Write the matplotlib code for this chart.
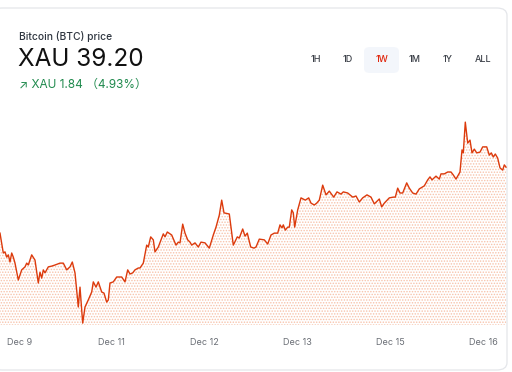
import matplotlib.pyplot as plt
from matplotlib.patches import FancyBboxPatch

plt.rcParams['font.family'] = ['Inter', 'DejaVu Sans', 'Noto Sans CJK SC']
plt.rcParams['hatch.linewidth'] = 0.7

# time axis (chart units across the week) and price in XAU
t = [0, 3.3, 5, 6.7, 8.3, 10, 11.7, 13.3, 15, 18.3, 21.7, 25, 26.7, 28.3, 31.7, 35,
     38.3, 40, 41.7, 43.3, 45, 48.3, 51.7, 55, 60, 63.3, 66.7, 70, 72.3, 75, 78.3, 80,
     82.7, 85, 88.3, 91.7, 93.3, 96, 98.3, 101.7, 104, 106.7, 108.3, 110, 113.3, 116.7,
     121.7, 125, 127.7, 130, 132.7, 135, 138.3, 140, 143.3, 146.7, 148.3, 150.7, 153.3,
     155, 158.3, 163.3, 165, 167.3, 171.7, 176, 178.3, 180, 182.7, 185, 187.7, 190,
     191.7, 195, 198.3, 201, 205, 209.3, 213.3, 216, 219.3, 221.7, 224, 229.3, 233.3,
     237.3, 239.3, 242.7, 245, 247.3, 250.7, 254,
     256, 259.3, 264.3, 267.7, 271, 274.3, 277.7, 280, 282, 283.3, 285.3, 287.7, 289.3,
     291.7, 293.3, 294.7, 297.7, 301, 305.3, 308.7, 311, 314.3, 316.7, 319.3, 322.7,
     326, 329.3, 333.7, 337, 341, 343.3, 347.7, 352.7, 356, 359.3, 362.7, 367, 371,
     374.3, 379.3, 381.7, 384.3, 389.3, 393.3, 395.3, 397.7, 400, 402.7, 406.7, 409.3,
     412.7, 416, 419.3, 424.3, 427.7, 430, 432, 436, 439.3, 441, 444.3, 447.7, 451,
     453.3, 456, 460, 462, 463.3, 465.3, 467.7, 470, 472, 474.3, 476.7, 480, 482.7,
     486.7, 489.3, 491.3, 493.3, 495.3, 497.7, 500, 502.7, 504.3, 506]
price = [37.41, 36.88, 36.91, 36.77, 36.83, 36.64, 36.88, 36.77, 36.61, 36.16, 36.43,
         36.51, 36.61, 36.56, 36.83, 36.69, 36.08, 36.37, 36.21, 36.43, 36.35, 36.51,
         36.53, 36.56, 36.61, 36.61, 36.43, 36.51, 36.64, 36.35, 35.44, 35.97, 35.01,
         35.44, 35.63, 35.84, 36.11, 35.97, 36.11, 35.84, 35.81, 35.57, 35.63, 36.08,
         36.11, 36.24, 36.24, 36.11, 36.43, 36.32, 36.35, 36.43, 36.48, 36.48, 36.61,
         37.09, 37.04, 37.31, 37.23, 36.91, 37.04, 37.39, 37.31, 37.44, 37.36, 37.09,
         37.17, 37.15, 37.65, 37.41, 37.23, 37.17, 37.09, 37.15, 37.04, 37.17, 37.15,
         37.01, 37.36, 37.57, 37.89, 38.29, 37.95, 37.92, 37.09, 37.31, 37.28, 37.52,
         37.33, 37.41, 37.04, 37.01,
         37.04, 37.25, 37.23, 37.12, 37.36, 37.41, 37.41, 37.63, 37.55, 37.63, 37.49,
         37.57, 37.57, 38.03, 37.95, 37.57, 38.03, 38.35, 38.29, 38.35, 38.21, 38.16,
         38.21, 38.29, 38.69, 38.43, 38.53, 38.37, 38.51, 38.45, 38.51, 38.48, 38.37,
         38.40, 38.24, 38.35, 38.43, 38.37, 38.19, 38.32, 38.11, 38.21, 38.35, 38.37,
         38.37, 38.61, 38.48, 38.48, 38.75, 38.61, 38.48, 38.45, 38.59, 38.67, 38.83,
         38.91, 38.83, 38.93, 38.85, 38.99, 38.99, 39.04, 39.04, 38.96, 38.85, 39.04,
         39.63, 39.55, 40.37, 39.81, 39.89, 39.55, 39.65, 39.55, 39.57, 39.71, 39.71,
         39.49, 39.55, 39.44, 39.52, 39.41, 39.15, 39.09, 39.23, 39.17]

tick_pos = [20, 111, 204, 297, 390, 483]
tick_labels = ['Dec 9', 'Dec 11', 'Dec 12', 'Dec 13', 'Dec 15', 'Dec 16']
ranges = ['1H', '1D', '1W', '1M', '1Y', 'ALL']
range_x = [316, 348, 382, 415, 448, 483]
active = '1W'

W, H = 512, 372
fig = plt.figure(figsize=(W / 100, H / 100), dpi=100)

# card outline, behind everything
card = FancyBboxPatch((-8 / W, 2 / H), 515 / W, 362 / H,
                      boxstyle='round,pad=0,rounding_size=0.02',
                      transform=fig.transFigure, facecolor='white',
                      edgecolor='#e4e6ea', linewidth=0.9, zorder=-10)
fig.patches.append(card)

ax = fig.add_axes([0, 1 - 325 / H, 507 / W, 225 / H])
ax.set_facecolor('none')
ax.fill_between(t, price, 34.96, facecolor='none', edgecolor='#f7c2aa',
                hatch='......', linewidth=0)
ax.plot(t, price, color='#dc3a0c', lw=1.0, solid_joinstyle='round')
ax.set_xlim(0, 507)
ax.set_ylim(34.96, 40.96)
ax.set_xticks(tick_pos)
ax.set_xticklabels(tick_labels)
ax.tick_params(axis='x', length=0, pad=9.5, labelsize=6.5, labelcolor='#6b6f76')
ax.set_yticks([])
for s in ax.spines.values():
    s.set_visible(False)

# header
fig.text(19 / W, 1 - 37 / H, 'Bitcoin (BTC) price', fontsize=7.4, color='#2f3640',
         va='center', ha='left', fontweight='medium')
fig.text(18 / W, 1 - 60 / H, 'XAU 39.20', fontsize=17.5, color='#111111',
         va='center', ha='left')
fig.text(19 / W, 1 - 85 / H, '↗ XAU 1.84 （4.93%）', fontsize=8.5, color='#1f8a4d',
         va='center', ha='left')

for name, x in zip(ranges, range_x):
    if name == active:
        btn = FancyBboxPatch((364 / W, 1 - 73 / H), 35 / W, 26 / H,
                             boxstyle='round,pad=0,rounding_size=0.012',
                             transform=fig.transFigure, facecolor='#f3f6fb',
                             edgecolor='none', zorder=-5)
        fig.patches.append(btn)
    fig.text(x / W, 1 - 60 / H, name, fontsize=6.5, fontweight='medium',
             color='#e0240a' if name == active else '#3a3f47',
             va='center', ha='center')

fig.savefig('out.png', dpi=100)
